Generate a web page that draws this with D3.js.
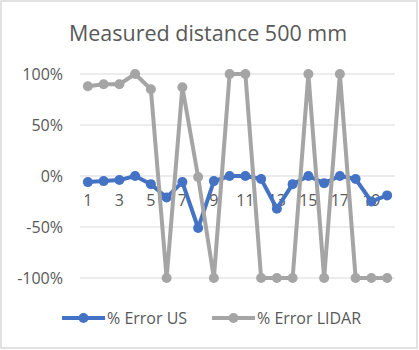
<!DOCTYPE html>
<html><head><meta charset="utf-8">
<script src="https://cdn.jsdelivr.net/npm/d3@7/dist/d3.min.js"></script>
<style>body{margin:0;background:#fff}svg{display:block}</style>
</head><body>
<script>
const categories = d3.range(1, 21).map(String);
const errorUS = [-6, -5, -4, 0, -8, -21, -6, -51, -5, 0, 0, -3, -32, -8, 0, -7, 0, -3, -25, -19];
const errorLIDAR = [88, 90, 90, 100, 85, -100, 87, -1, -100, 100, 100, -100, -100, -100, 100, -100, 100, -100, -100, -100];
const yTicks = [100, 50, 0, -50, -100];
const seriesNames = ["% Error US", "% Error LIDAR"];
const colors = ["#4472C4", "#A5A5A5"];

const W = 419, H = 350;
const font = "'Open Sans', 'Noto Sans', sans-serif";
const svg = d3.select("body").append("svg").attr("width", W).attr("height", H);
svg.append("rect").attr("x", 1).attr("y", 1).attr("width", 416).attr("height", 347)
  .attr("fill", "#fff").attr("stroke", "#d9d9d9").attr("stroke-width", 1.5);

svg.append("text").attr("x", 208).attr("y", 41).attr("text-anchor", "middle")
  .attr("font-family", font).attr("font-size", 21.5).attr("fill", "#595959")
  .text("Measured distance 500 mm");

const x = d3.scaleBand().domain(categories).range([80, 395]);
const y = d3.scaleLinear().domain([-100, 100]).range([278, 74]);

const g = svg.append("g");
g.selectAll("line.grid").data(yTicks).enter().append("line")
  .attr("x1", 80).attr("x2", 395).attr("y1", d => y(d)).attr("y2", d => y(d))
  .attr("stroke", "#d9d9d9").attr("stroke-width", 1);

g.selectAll("text.ytick").data(yTicks).enter().append("text")
  .attr("x", 63).attr("y", d => y(d) + 5.5).attr("text-anchor", "end")
  .attr("font-family", font).attr("font-size", 16).attr("fill", "#595959")
  .text(d => d + "%");

g.selectAll("text.xtick").data(categories.filter((c, i) => i % 2 === 0)).enter().append("text")
  .attr("x", d => x(d) + x.bandwidth() / 2).attr("y", y(0) + 30).attr("text-anchor", "middle")
  .attr("font-family", font).attr("font-size", 16).attr("fill", "#595959")
  .text(d => d);

const cx = (d, i) => x(categories[i]) + x.bandwidth() / 2;
const drawSeries = (vals, color) => {
  const line = d3.line().x((d, i) => cx(d, i)).y(d => y(d));
  g.append("path").datum(vals).attr("d", line).attr("fill", "none")
    .attr("stroke", color).attr("stroke-width", 4).attr("stroke-linejoin", "round");
  g.selectAll(null).data(vals).enter().append("circle")
    .attr("cx", cx).attr("cy", d => y(d)).attr("r", 5).attr("fill", color);
};
drawSeries(errorUS, colors[0]);
drawSeries(errorLIDAR, colors[1]);

const legendX = [62, 212];
seriesNames.forEach((name, i) => {
  const lg = svg.append("g");
  lg.append("line").attr("x1", legendX[i]).attr("x2", legendX[i] + 43).attr("y1", 318).attr("y2", 318)
    .attr("stroke", colors[i]).attr("stroke-width", 4);
  lg.append("circle").attr("cx", legendX[i] + 21.5).attr("cy", 318).attr("r", 5).attr("fill", colors[i]);
  lg.append("text").attr("x", legendX[i] + 45).attr("y", 323.5)
    .attr("font-family", font).attr("font-size", 16).attr("fill", "#595959").text(name);
});
</script>
</body></html>
